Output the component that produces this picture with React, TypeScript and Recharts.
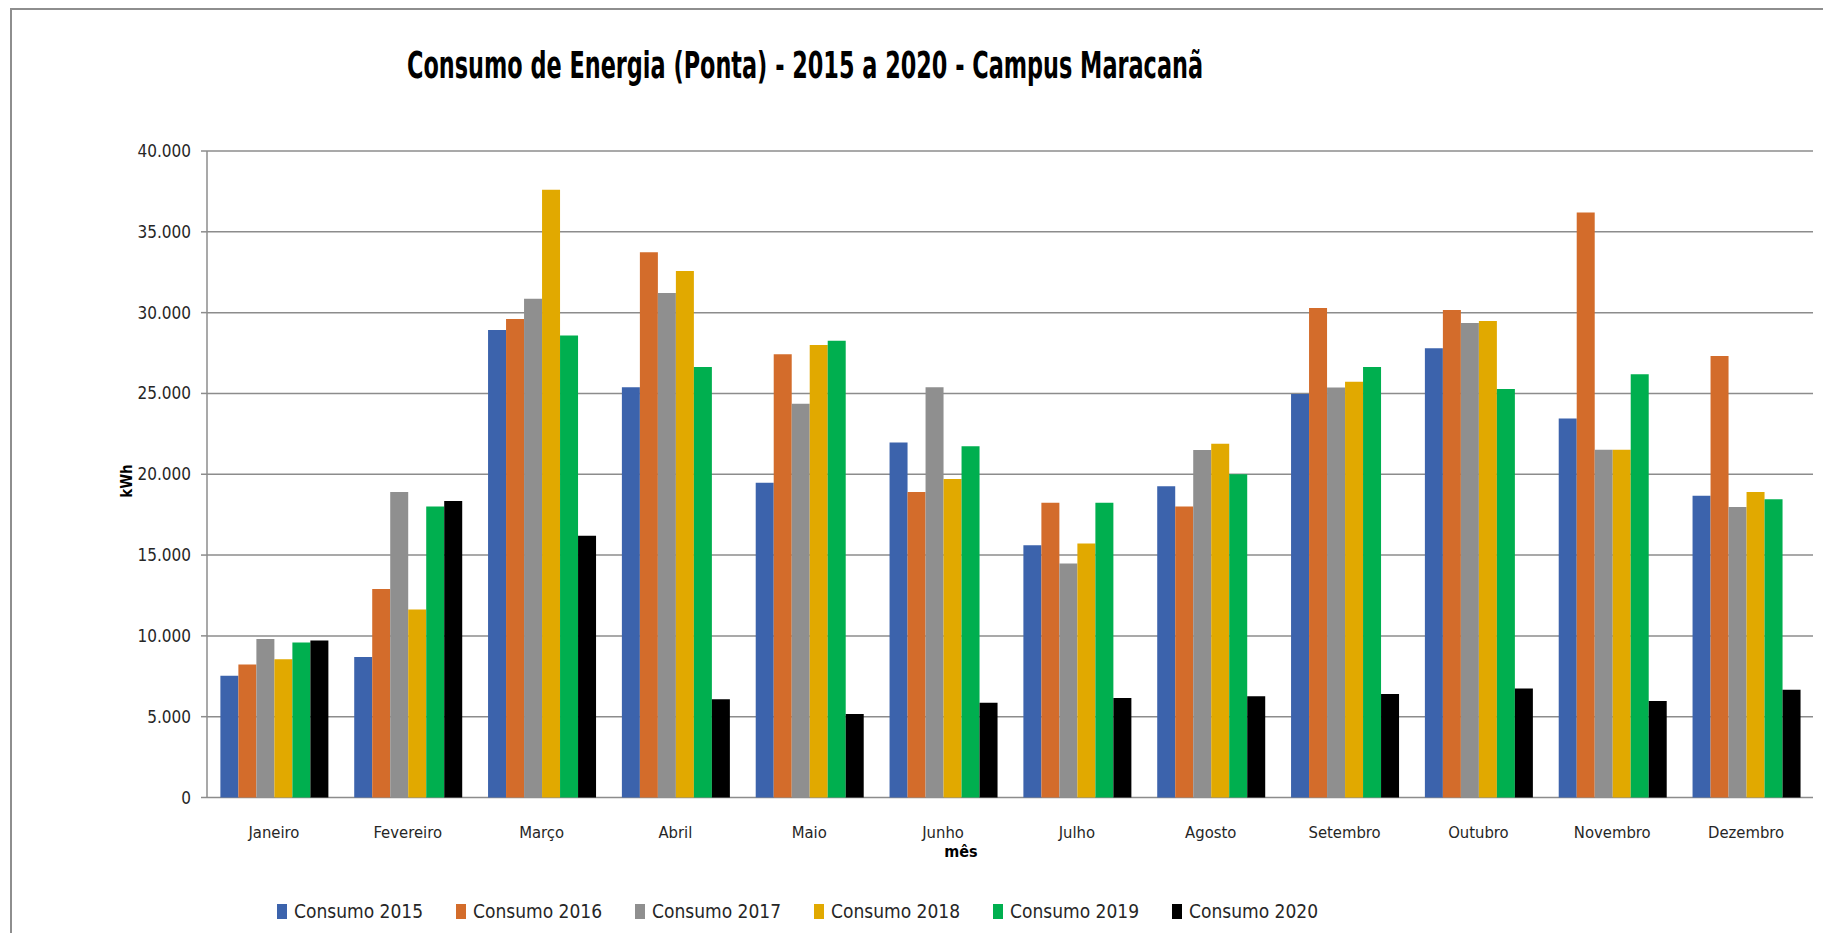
import React from 'react';
import { BarChart, Bar, XAxis, YAxis, CartesianGrid, Legend } from 'recharts';

const months = ['Janeiro', 'Fevereiro', 'Março', 'Abril', 'Maio', 'Junho', 'Julho', 'Agosto', 'Setembro', 'Outubro', 'Novembro', 'Dezembro'];

const consumo2015 = [7540, 8700, 28920, 25390, 19480, 21960, 15600, 19250, 24970, 27790, 23450, 18670];
const consumo2016 = [8230, 12900, 29610, 33730, 27430, 18900, 18230, 18000, 30280, 30170, 36190, 27320];
const consumo2017 = [9810, 18900, 30860, 31220, 24360, 25390, 14480, 21500, 25360, 29360, 21520, 17980];
const consumo2018 = [8560, 11630, 37600, 32570, 28000, 19700, 15720, 21880, 25720, 29480, 21520, 18900];
const consumo2019 = [9590, 18010, 28590, 26630, 28260, 21740, 18230, 20000, 26630, 25280, 26190, 18450];
const consumo2020 = [9720, 18340, 16190, 6080, 5170, 5860, 6160, 6270, 6400, 6740, 5970, 6660];

const seriesNames = ['Consumo 2015', 'Consumo 2016', 'Consumo 2017', 'Consumo 2018', 'Consumo 2019', 'Consumo 2020'];
const seriesValues = [consumo2015, consumo2016, consumo2017, consumo2018, consumo2019, consumo2020];
const seriesColors = ['#3C63AC', '#D36C2B', '#8F8F8F', '#E1A900', '#00AF4F', '#000000'];

const yTicks = [0, 5000, 10000, 15000, 20000, 25000, 30000, 35000, 40000];
const boundaryTicks = [0, 1, 2, 3, 4, 5, 6, 7, 8, 9, 10, 11, 12];

const titleText = 'Consumo de Energia (Ponta) - 2015 a 2020 - Campus Maracanã';
const yAxisTitle = 'kWh';
const xAxisTitle = 'mês';

const data = months.map((m, i) => {
  const row: Record<string, string | number> = { month: m };
  seriesNames.forEach((n, s) => {
    row[n] = seriesValues[s][i];
  });
  return row;
});

const FONT = "'DejaVu Sans Condensed', 'Liberation Sans', sans-serif";
const TEXT = '#262626';
const GRID = '#8c8c8c';

const fmt = (v: number) => String(v).replace(/\B(?=(\d{3})+(?!\d))/g, '.');

const renderLegend = () => (
  <div style={{ display: 'flex', fontFamily: FONT, fontSize: 19, color: TEXT, height: 30, alignItems: 'center' }}>
    {seriesNames.map((n, i) => (
      <div key={n} style={{ width: 179, display: 'flex', alignItems: 'center', flex: '0 0 179px' }}>
        <span style={{ width: 10, height: 15, background: seriesColors[i], marginRight: 7, display: 'inline-block' }} />
        <span>{n}</span>
      </div>
    ))}
  </div>
);

export default function App() {
  return (
    <div style={{ position: 'relative', width: 1823, height: 925 }}>
      <div
        style={{
          position: 'absolute',
          left: 2,
          top: 0,
          width: 1821,
          height: 925,
          borderTop: '2px solid #8e8e8e',
          borderLeft: '2px solid #8e8e8e',
          boxSizing: 'border-box',
        }}
      />
      <BarChart
        width={1823}
        height={925}
        data={data}
        margin={{ top: 143, right: 18, left: 0, bottom: 0 }}
        barCategoryGap="10%"
        barGap={0}
      >
        <CartesianGrid xAxisId="cat" vertical={false} stroke={GRID} strokeWidth={1.5} />
        <XAxis
          xAxisId="bounds"
          type="number"
          domain={[0, 12]}
          ticks={boundaryTicks}
          allowDataOverflow
          height={0}
          axisLine={{ stroke: GRID, strokeWidth: 1.5 }}
          tickLine={{ stroke: GRID, strokeWidth: 1.5 }}
          tickSize={8}
          tick={() => <g />}
        />
        <XAxis
          xAxisId="cat"
          dataKey="month"
          height={135.5}
          axisLine={false}
          tickLine={false}
          tickSize={0}
          tickMargin={29}
          interval={0}
          tick={{ fontFamily: FONT, fontSize: 16.5, fill: TEXT }}
        />
        <YAxis
          width={199}
          domain={[0, 40000]}
          ticks={yTicks}
          interval={0}
          tickFormatter={fmt}
          axisLine={{ stroke: GRID, strokeWidth: 1.5 }}
          tickLine={{ stroke: GRID, strokeWidth: 1.5 }}
          tickSize={6}
          tickMargin={10}
          tick={{ fontFamily: FONT, fontSize: 17, fill: TEXT }}
        />
        <Legend
          layout="horizontal"
          verticalAlign="middle"
          align="center"
          content={renderLegend}
          wrapperStyle={{ position: 'absolute', left: 269, top: 888, width: 1100, height: 30 }}
        />
        {seriesNames.map((n, i) => (
          <Bar key={n} xAxisId="cat" dataKey={n} fill={seriesColors[i]} isAnimationActive={false} />
        ))}
      </BarChart>
      <svg
        width={1823}
        height={925}
        style={{ position: 'absolute', left: 0, top: 0, pointerEvents: 'none' }}
      >
        <text
          x={399}
          y={70}
          fontFamily={FONT}
          fontWeight="bold"
          fontSize={38}
          fill="#000"
          textLength={796}
          lengthAdjust="spacingAndGlyphs"
        >
          {titleText}
        </text>
        <text
          x={124}
          y={473}
          transform="rotate(-90 124 473)"
          textAnchor="middle"
          fontFamily={FONT}
          fontWeight="bold"
          fontSize={15}
          fill="#000"
        >
          {yAxisTitle}
        </text>
        <text x={953} y={849} textAnchor="middle" fontFamily={FONT} fontWeight="bold" fontSize={16} fill="#000">
          {xAxisTitle}
        </text>
      </svg>
    </div>
  );
}
